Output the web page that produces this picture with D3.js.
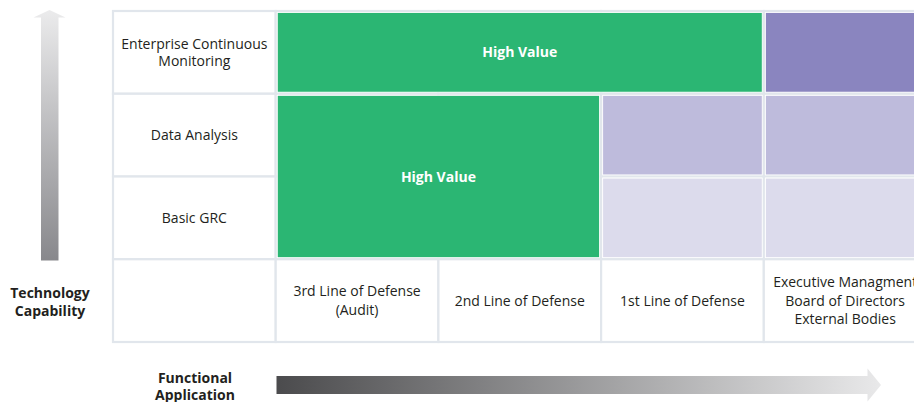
<!DOCTYPE html>
<html><head><meta charset="utf-8">
<script src="https://cdn.jsdelivr.net/npm/d3@7"></script>
<style>html,body{margin:0;padding:0;background:#fff;overflow:hidden}</style>
</head><body>
<svg id="chart" width="914" height="402"></svg>
<script>
// ---- data ----
const rowLabels = [["Enterprise Continuous","Monitoring"],["Data Analysis"],["Basic GRC"]];
const colLabels = [["3rd Line of Defense","(Audit)"],["2nd Line of Defense"],["1st Line of Defense"],["Executive Managment","Board of Directors","External Bodies"]];
// blocks: [col start, col end (exclusive)], [row start, row end (exclusive)]
const blockCols = [[0,3],[3,4],[0,2],[2,3],[3,4],[2,3],[3,4]];
const blockRows = [[0,1],[0,1],[1,3],[1,2],[1,2],[2,3],[2,3]];
const blockTone = ["green","purple3","green","purple2","purple2","purple1","purple1"];
const blockText = ["High Value","","High Value","","","",""];
const yAxisTitle = ["Technology","Capability"];
const xAxisTitle = ["Functional","Application"];

const color = d3.scaleOrdinal()
  .domain(["green","purple3","purple2","purple1"])
  .range(["#2bb673","#8a85bf","#bebbdc","#dcdbec"]);

const svg = d3.select("#chart");
const font = "'Open Sans', sans-serif";
const FS = 14;

const gx = d3.scaleLinear().domain([0,5]).range([113, 113 + 5*162.7]);
const gy = d3.scaleLinear().domain([0,4]).range([11, 342]);

const defs = svg.append("defs");
const gv = defs.append("linearGradient").attr("id","gv").attr("x1",0).attr("y1",0).attr("x2",0).attr("y2",1);
gv.append("stop").attr("offset","0%").attr("stop-color","#ebebec");
gv.append("stop").attr("offset","100%").attr("stop-color","#88888c");
const gh = defs.append("linearGradient").attr("id","gh").attr("x1",0).attr("y1",0).attr("x2",1).attr("y2",0);
gh.append("stop").attr("offset","0%").attr("stop-color","#4b4b4d");
gh.append("stop").attr("offset","100%").attr("stop-color","#e9e9ea");

// grid cells
const cells = [];
for (let r = 0; r < 4; r++) for (let c = 0; c < 5; c++) cells.push({r, c});
svg.append("g").selectAll("rect").data(cells).join("rect")
  .attr("x", d => gx(d.c)).attr("y", d => gy(d.r))
  .attr("width", gx(1)-gx(0)).attr("height", gy(1)-gy(0))
  .attr("fill","#fff").attr("stroke","#e1e6ec").attr("stroke-width",2.2);

// coloured blocks
const blocks = blockTone.map((t,i) => ({t, c: blockCols[i], r: blockRows[i], label: blockText[i]}));
const bg = svg.append("g");
bg.selectAll("rect").data(blocks).join("rect")
  .attr("x", d => gx(d.c[0]+1)+1.6).attr("y", d => gy(d.r[0])+1.6)
  .attr("width", d => gx(d.c[1]+1)-gx(d.c[0]+1)-3.2)
  .attr("height", d => gy(d.r[1])-gy(d.r[0])-3.2)
  .attr("fill", d => color(d.t)).attr("stroke","#fff").attr("stroke-width",0.8);
bg.selectAll("text").data(blocks.filter(d => d.label)).join("text")
  .attr("x", d => (gx(d.c[0]+1)+gx(d.c[1]+1))/2)
  .attr("y", d => (gy(d.r[0])+gy(d.r[1]))/2 + 5)
  .attr("text-anchor","middle").attr("fill","#fff")
  .attr("font-family", font).attr("font-weight","bold").attr("font-size",FS)
  .text(d => d.label);

function multiline(g, lines, cx, cy, lh, size, weight, fill) {
  const t = g.append("text").attr("text-anchor","middle").attr("font-family",font)
    .attr("font-size",size).attr("font-weight",weight).attr("fill",fill);
  const n = lines.length;
  lines.forEach((s,i) => t.append("tspan").attr("x",cx).attr("y", cy + (i-(n-1)/2)*lh + size*0.36).text(s));
}
const lg = svg.append("g");
rowLabels.forEach((lines,i) => multiline(lg, lines, (gx(0)+gx(1))/2, (gy(i)+gy(i+1))/2, 17.4, FS, "normal", "#231f20"));
colLabels.forEach((lines,i) => multiline(lg, lines, (gx(i+1)+gx(i+2))/2, (gy(3)+gy(4))/2, 18.5, FS, "normal", "#231f20"));

// vertical arrow
svg.append("path")
  .attr("d", d3.line()([[41,260.5],[41,17.5],[33.5,17.5],[49.5,10],[65.5,17.5],[58.5,17.5],[58.5,260.5]]) + "Z")
  .attr("fill","url(#gv)");
// horizontal arrow
svg.append("path")
  .attr("d", d3.line()([[276.5,376],[867.5,376],[867.5,368.5],[881,385],[867.5,401.5],[867.5,394],[276.5,394]]) + "Z")
  .attr("fill","url(#gh)");

multiline(lg, yAxisTitle, 50, 302, 18.5, FS, "bold", "#231f20");
multiline(lg, xAxisTitle, 195, 386, 17, FS, "bold", "#231f20");
</script>
</body></html>
